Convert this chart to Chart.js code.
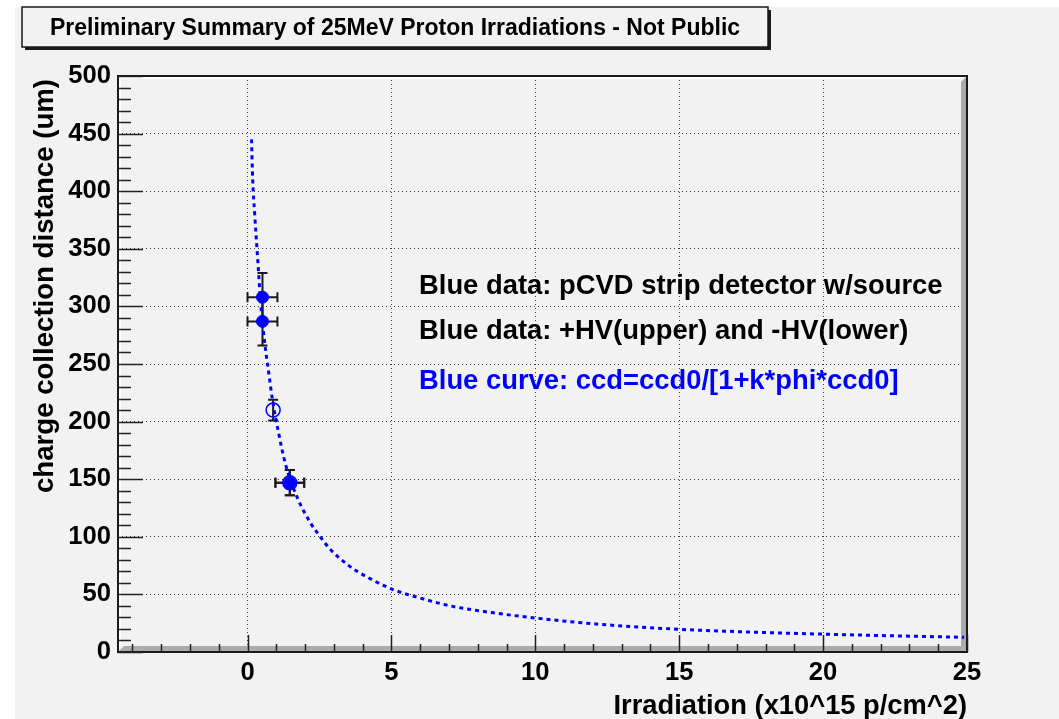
<!DOCTYPE html>
<html>
<head>
<meta charset="utf-8">
<title>Preliminary Summary of 25MeV Proton Irradiations</title>
<script src="https://cdn.jsdelivr.net/npm/chart.js@4.4.0/dist/chart.umd.min.js"></script>
<style>
  html, body { margin: 0; padding: 0; background: #fff; }
  #wrap { position: absolute; left: 0; top: 0; width: 1059px; height: 719px; }
</style>
</head>
<body>
<div id="wrap"><canvas id="ccdChart" width="1059" height="719"></canvas></div>
<script>
// tick labels
const xTicks = [0, 5, 10, 15, 20, 25];
const yTicks = [0, 50, 100, 150, 200, 250, 300, 350, 400, 450, 500];

// filled markers (x = fluence, y = ccd, with errors)
const filledFluence = [0.52, 0.52, 1.47];
const filledCcd = [308, 287, 147];
const filledFluenceErr = [0.52, 0.52, 0.5];
const filledCcdErr = [21, 21, 11];

// open markers
const openFluence = [0.89, 1.47];
const openCcd = [210, 147];
const openFluenceErr = [0, 0.5];
const openCcdErr = [9, 11];

// fitted curve
const curveFluence = [0.14, 0.18, 0.25, 0.37, 0.45, 0.59, 0.74, 0.86, 1.09, 1.32, 1.73, 2.19, 2.53, 2.88,
  3.52, 4.16, 5.08, 6.12, 7.05, 8.55, 10, 12.26, 15, 17.5, 20, 22.5, 24.9];
const curveCcd = [445, 410, 380, 335, 305, 270, 242, 220, 189, 163, 134, 112, 100, 89,
  75, 65, 54, 46, 40, 34, 29.5, 24, 19.7, 17.3, 15.5, 14, 12.8];

const notes = [
  { text: 'Blue data: pCVD strip detector w/source', color: '#000' },
  { text: 'Blue data: +HV(upper) and -HV(lower)', color: '#000' },
  { text: 'Blue curve: ccd=ccd0/[1+k*phi*ccd0]', color: '#0000ff' }
];

const FONT = '"Liberation Sans", Arial, Helvetica, sans-serif';
const BLUE = '#0000ff';

const toPoints = (xs, ys) => xs.map((x, i) => ({ x: x, y: ys[i] }));

// ROOT style frame, inside ticks and error bars
const rootFrame = {
  id: 'rootFrame',
  beforeDraw(chart) {
    const ctx = chart.ctx;
    ctx.save();
    ctx.fillStyle = '#fff';
    ctx.fillRect(0, 0, chart.width, chart.height);
    ctx.fillStyle = '#f2f2f2';
    ctx.fillRect(15, 7, chart.width - 15, chart.height - 7);
    ctx.restore();
  },
  beforeDatasetsDraw(chart) {
    const { ctx, chartArea: a, scales } = chart;
    const xs = scales.x, ys = scales.y;
    ctx.save();
    // bevel
    ctx.fillStyle = '#ababab';
    ctx.beginPath();
    ctx.moveTo(a.left, a.bottom);
    ctx.lineTo(a.right, a.bottom);
    ctx.lineTo(a.right - 6, a.bottom - 6);
    ctx.lineTo(a.left + 6, a.bottom - 6);
    ctx.closePath();
    ctx.fill();
    ctx.beginPath();
    ctx.moveTo(a.right, a.top);
    ctx.lineTo(a.right, a.bottom);
    ctx.lineTo(a.right - 6, a.bottom - 6);
    ctx.lineTo(a.right - 6, a.top + 6);
    ctx.closePath();
    ctx.fill();
    ctx.strokeStyle = '#fff';
    ctx.lineWidth = 2;
    ctx.beginPath();
    ctx.moveTo(a.left + 2, a.bottom - 6);
    ctx.lineTo(a.left + 2, a.top + 2);
    ctx.lineTo(a.right - 6, a.top + 2);
    ctx.stroke();
    ctx.strokeStyle = '#1a1a1a';
    ctx.lineWidth = 2;
    ctx.strokeRect(a.left, a.top, a.right - a.left, a.bottom - a.top);

    // ticks
    ctx.strokeStyle = '#222';
    ctx.lineWidth = 1.5;
    ctx.beginPath();
    for (let v = Math.ceil(ys.min); v <= ys.max; v += 10) {
      const y = Math.round(ys.getPixelForValue(v)) + 0.5;
      const len = v % 50 === 0 ? 25 : 13;
      ctx.moveTo(a.left, y);
      ctx.lineTo(a.left + len, y);
    }
    for (let v = Math.ceil(xs.min); v <= xs.max; v += 1) {
      const x = Math.round(xs.getPixelForValue(v)) + 0.5;
      const len = v % 5 === 0 ? 17 : 8;
      ctx.moveTo(x, a.bottom);
      ctx.lineTo(x, a.bottom - len);
    }
    ctx.stroke();

    // error bars
    ctx.strokeStyle = '#1a1a1a';
    ctx.lineWidth = 2;
    chart.data.datasets.forEach(ds => {
      if (!ds.xErr) return;
      ds.data.forEach((p, i) => {
        const px = xs.getPixelForValue(p.x);
        const py = ys.getPixelForValue(p.y);
        const ex = ds.xErr[i], ey = ds.yErr[i];
        ctx.beginPath();
        if (ey > 0) {
          const y1 = ys.getPixelForValue(p.y + ey);
          const y2 = ys.getPixelForValue(p.y - ey);
          ctx.moveTo(px, y1); ctx.lineTo(px, y2);
          ctx.moveTo(px - 5, y1); ctx.lineTo(px + 5, y1);
          ctx.moveTo(px - 5, y2); ctx.lineTo(px + 5, y2);
        }
        if (ex > 0) {
          const x1 = xs.getPixelForValue(p.x - ex);
          const x2 = xs.getPixelForValue(p.x + ex);
          ctx.moveTo(x1, py); ctx.lineTo(x2, py);
          ctx.moveTo(x1, py - 5); ctx.lineTo(x1, py + 5);
          ctx.moveTo(x2, py - 5); ctx.lineTo(x2, py + 5);
        }
        ctx.stroke();
      });
    });
    ctx.restore();
  },
  afterDraw(chart) {
    const { ctx, chartArea: a } = chart;
    ctx.save();
    // title box
    ctx.fillStyle = '#1a1a1a';
    ctx.fillRect(25, 10, 746, 40);
    ctx.fillStyle = '#f2f2f2';
    ctx.fillRect(22, 7, 746, 40);
    ctx.strokeStyle = '#1a1a1a';
    ctx.lineWidth = 1.5;
    ctx.strokeRect(22, 7, 746, 40);
    ctx.fillStyle = '#000';
    ctx.font = 'bold 23px ' + FONT;
    ctx.textAlign = 'center';
    ctx.textBaseline = 'alphabetic';
    ctx.fillText('Preliminary Summary of 25MeV Proton Irradiations - Not Public', 395, 35);

    // axis titles
    ctx.font = 'bold 27.3px ' + FONT;
    ctx.textAlign = 'right';
    ctx.fillText('Irradiation (x10^15 p/cm^2)', a.right, 714);
    ctx.save();
    ctx.translate(53, a.top + 3);
    ctx.rotate(-Math.PI / 2);
    ctx.font = 'bold 27.6px ' + FONT;
    ctx.textAlign = 'right';
    ctx.fillText('charge collection distance (um)', 0, 0);
    ctx.restore();

    // notes
    ctx.font = 'bold 27.4px ' + FONT;
    ctx.textAlign = 'left';
    const base = [294, 339, 389];
    notes.forEach((n, i) => {
      ctx.fillStyle = n.color;
      ctx.fillText(n.text, 419, base[i]);
    });
    ctx.restore();
  }
};

const gridColor = c => {
  const v = c.tick.value;
  const s = c.scale;
  return (v <= s.min || v >= s.max) ? 'rgba(0,0,0,0)' : '#3a3a3a';
};

new Chart(document.getElementById('ccdChart'), {
  type: 'scatter',
  data: {
    datasets: [
      {
        label: 'open',
        data: toPoints(openFluence, openCcd),
        xErr: openFluenceErr,
        yErr: openCcdErr,
        pointStyle: 'circle',
        pointRadius: 7,
        backgroundColor: 'rgba(0,0,0,0)',
        borderColor: BLUE,
        borderWidth: 1.5
      },
      {
        label: 'filled',
        data: toPoints(filledFluence, filledCcd),
        xErr: filledFluenceErr,
        yErr: filledCcdErr,
        pointStyle: 'circle',
        pointRadius: 6,
        backgroundColor: BLUE,
        borderColor: BLUE,
        borderWidth: 1
      },
      {
        label: 'fit',
        data: toPoints(curveFluence, curveCcd),
        showLine: true,
        cubicInterpolationMode: 'monotone',
        borderColor: BLUE,
        borderWidth: 3,
        borderDash: [4, 4],
        pointRadius: 0
      }
    ]
  },
  options: {
    responsive: false,
    devicePixelRatio: 1,
    animation: false,
    layout: { padding: { left: 0, right: 92, top: 76, bottom: 0 } },
    plugins: { legend: { display: false }, tooltip: { enabled: false } },
    scales: {
      x: {
        type: 'linear',
        position: 'bottom',
        min: -4.5,
        max: 25,
        afterBuildTicks: s => { s.ticks = xTicks.map(v => ({ value: v })); },
        afterFit: s => { s.height = 67; },
        grid: { color: gridColor, lineWidth: 1, drawTicks: false },
        border: { display: false, dash: [1, 3] },
        ticks: { color: '#000', padding: 6, maxRotation: 0, font: { family: FONT, size: 25.6, weight: 'bold' } }
      },
      y: {
        type: 'linear',
        min: 0,
        max: 500,
        afterBuildTicks: s => { s.ticks = yTicks.map(v => ({ value: v })); },
        afterFit: s => { s.width = 118; },
        grid: { color: gridColor, lineWidth: 1, drawTicks: false },
        border: { display: false, dash: [1, 3] },
        ticks: { color: '#000', padding: 7, font: { family: FONT, size: 25.6, weight: 'bold' } }
      }
    }
  },
  plugins: [rootFrame]
});
</script>
</body>
</html>
